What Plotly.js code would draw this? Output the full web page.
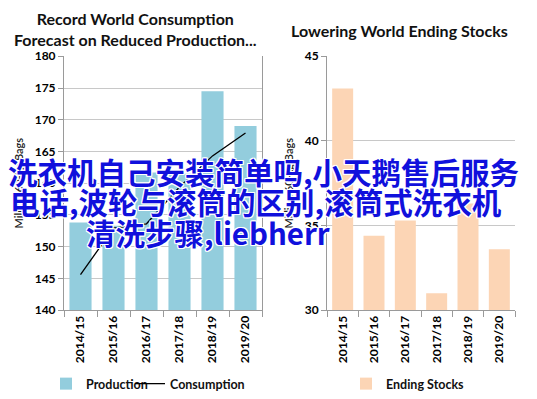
<!DOCTYPE html>
<html><head><meta charset="utf-8">
<script src="https://cdn.plot.ly/plotly-3.0.1.min.js"></script>
<style>html,body{margin:0;padding:0;background:#fff}#chart{width:537px;height:399px}</style>
</head><body><div id="chart"></div>
<script>
const years = ["2014/15","2015/16","2016/17","2017/18","2018/19","2019/20"];
const production = [153.8, 153.3, 161.7, 161.5, 174.5, 169.0];
const consumption = [145.6, 152.9, 153.6, 159.4, 164.3, 167.9];
const endingStocks = [43.1, 34.4, 35.3, 31.0, 36.3, 33.6];
const leftTitle = "Record World Consumption<br>Forecast on Reduced Production...";
const rightTitle = "Lowering World Ending Stocks";
const yTitle = "Million 60-kg Bags";
const overlayLines = ["洗衣机自己安装简单吗,小天鹅售后服务","电话,波轮与滚筒的区别,滚筒式洗衣机","清洗步骤,liebherr"];

const W = 537, H = 399;
const px = x => x / W, py = y => 1 - y / H;
const F = "Lato, 'Open Sans', sans-serif";

const data = [
  {type:'bar', x: years, y: production, name:'Production', marker:{color:'#93cddd'}, xaxis:'x', yaxis:'y', legend:'legend'},
  {type:'scatter', mode:'lines', x: years, y: consumption, name:'Consumption', line:{color:'#000', width:1.3}, xaxis:'x', yaxis:'y', legend:'legend3'},
  {type:'bar', x: years, y: endingStocks, name:'Ending Stocks', marker:{color:'#fcd5b5'}, xaxis:'x2', yaxis:'y2', legend:'legend2'}
];

const axFont = {family:F, size:12, color:'#000', weight:700};
const xcommon = {type:'category', tickangle:-90, tickfont:axFont, showline:true, linecolor:'#9a9a9a', linewidth:1,
  ticks:'outside', ticklen:6, tickcolor:'#9a9a9a', tickson:'boundaries', showgrid:false, fixedrange:true};
const ycommon = {tickfont:axFont, showline:true, linecolor:'#9a9a9a', linewidth:1, ticks:'outside', ticklen:5,
  tickcolor:'#9a9a9a', gridcolor:'#c8c8c8', gridwidth:1, zeroline:false, fixedrange:true,
  title:{text:yTitle, font:{family:F, size:11, color:'#222', weight:600}, standoff:8}};
const legFont = {family:F, size:12.5, color:'#111', weight:700};

const layout = {
  width: W, height: H, margin:{l:0,r:0,t:0,b:0}, paper_bgcolor:'#fff', plot_bgcolor:'#fff',
  bargap:0.33, showlegend:true,
  xaxis: Object.assign({}, xcommon, {domain:[px(64), px(262)], anchor:'y'}),
  yaxis: Object.assign({}, ycommon, {domain:[py(314), py(57)], range:[140,180], dtick:5, anchor:'x', mirror:true}),
  xaxis2: Object.assign({}, xcommon, {domain:[px(327), px(515)], anchor:'y2'}),
  yaxis2: Object.assign({}, ycommon, {domain:[py(314), py(57)], range:[30,45], dtick:5, anchor:'x2'}),
  legend: {orientation:'h', x:px(46), y:py(374), xanchor:'left', yanchor:'top', font:legFont, itemwidth:30, bgcolor:'rgba(0,0,0,0)'},
  legend3: {orientation:'h', x:px(130), y:py(374), xanchor:'left', yanchor:'top', font:legFont, itemwidth:30, bgcolor:'rgba(0,0,0,0)'},
  legend2: {orientation:'h', x:px(346), y:py(374), xanchor:'left', yanchor:'top', font:legFont, itemwidth:30, bgcolor:'rgba(0,0,0,0)'},
  annotations: [
    {text:leftTitle, xref:'paper', yref:'paper', x:px(135), y:py(29), xanchor:'center', yanchor:'middle', showarrow:false,
      font:{family:F, size:16, color:'#111', weight:700}},
    {text:rightTitle, xref:'paper', yref:'paper', x:px(399), y:py(31), xanchor:'center', yanchor:'middle', showarrow:false,
      font:{family:F, size:16, color:'#111', weight:700}},
  ]
};
const ovY = [173, 204, 235];
const ovX = [6, 8, 84];
overlayLines.forEach((t, i) => {
  layout.annotations.push({text:t, xref:'paper', yref:'paper', x:px(ovX[i]), y:py(ovY[i]), xanchor:'left', yanchor:'middle',
    showarrow:false, font:{family:"'Noto Sans CJK SC', sans-serif", size:29.5, color:'#1010dc', weight:700,
    shadow:'1px 1px 0 #fff, -1px -1px 0 #fff, 1px -1px 0 #fff, -1px 1px 0 #fff, 0 1px 0 #fff, 0 -1px 0 #fff, 1px 0 0 #fff, -1px 0 0 #fff'}});
});
Plotly.newPlot('chart', data, layout, {staticPlot:true, displayModeBar:false});
</script></body></html>
